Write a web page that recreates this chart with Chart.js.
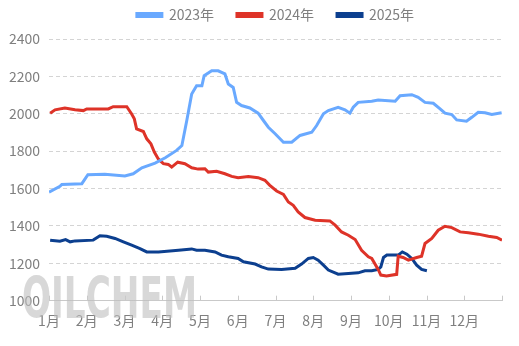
<!DOCTYPE html>
<html>
<head>
<meta charset="utf-8">
<script src="https://cdn.jsdelivr.net/npm/chart.js@4"></script>
<style>
  html, body { margin: 0; padding: 0; background: #fff; }
  #box { width: 519px; height: 346px; }
</style>
</head>
<body>
<div id="box"><canvas id="priceChart"></canvas></div>
<script>
// 月份标签
const months = ['1月','2月','3月','4月','5月','6月','7月','8月','9月','10月','11月','12月'];
const yTicks = [1000, 1200, 1400, 1600, 1800, 2000, 2200, 2400];

// 2023年 (位置: 月份序号, 值)
const pos2023 = [0, 0.29, 0.34, 0.87, 1.03, 1.48, 2.01, 2.23, 2.46, 2.81, 3.08, 3.38, 3.52, 3.65, 3.78, 3.91, 4.05, 4.11, 4.31, 4.48, 4.66, 4.75, 4.88, 4.97, 5.10, 5.32, 5.54, 5.68, 5.81, 5.99, 6.21, 6.43, 6.65, 6.96, 7.09, 7.27, 7.40, 7.66, 7.84, 7.97, 8.06, 8.19, 8.55, 8.72, 9.17, 9.30, 9.61, 9.78, 9.96, 10.18, 10.36, 10.49, 10.67, 10.80, 11.06, 11.20, 11.37, 11.55, 11.73, 11.99];
const val2023 = [1581, 1612, 1622, 1626, 1674, 1677, 1667, 1679, 1711, 1736, 1765, 1804, 1830, 1964, 2106, 2150, 2150, 2204, 2230, 2230, 2213, 2159, 2141, 2061, 2044, 2031, 2003, 1964, 1928, 1893, 1848, 1848, 1884, 1901, 1937, 2000, 2017, 2035, 2021, 2003, 2035, 2061, 2067, 2074, 2067, 2097, 2102, 2088, 2061, 2056, 2026, 2003, 1996, 1967, 1960, 1981, 2008, 2005, 1996, 2005];

// 2024年
const pos2024 = [0.03, 0.16, 0.42, 0.69, 0.91, 1.00, 1.57, 1.70, 2.06, 2.19, 2.26, 2.32, 2.50, 2.59, 2.70, 2.79, 2.90, 3.03, 3.16, 3.25, 3.41, 3.60, 3.78, 3.95, 4.13, 4.22, 4.44, 4.66, 4.84, 5.01, 5.28, 5.54, 5.72, 5.85, 6.03, 6.21, 6.34, 6.47, 6.60, 6.78, 7.05, 7.44, 7.58, 7.75, 7.93, 8.11, 8.28, 8.46, 8.55, 8.72, 8.79, 8.94, 9.21, 9.25, 9.38, 9.52, 9.74, 9.87, 9.96, 10.14, 10.31, 10.49, 10.67, 10.89, 11.11, 11.37, 11.64, 11.86, 12.0];
const val2024 = [2003, 2021, 2031, 2021, 2017, 2026, 2026, 2038, 2038, 1999, 1973, 1919, 1905, 1866, 1839, 1795, 1757, 1733, 1729, 1715, 1741, 1733, 1711, 1704, 1706, 1688, 1692, 1679, 1665, 1658, 1665, 1658, 1644, 1617, 1587, 1569, 1528, 1510, 1475, 1445, 1430, 1427, 1404, 1368, 1350, 1327, 1270, 1235, 1226, 1167, 1137, 1132, 1141, 1238, 1231, 1217, 1231, 1238, 1306, 1333, 1377, 1398, 1391, 1368, 1363, 1356, 1345, 1338, 1324];

// 2025年
const pos2025 = [0.03, 0.29, 0.44, 0.56, 0.69, 1.17, 1.35, 1.53, 1.75, 1.97, 2.19, 2.41, 2.59, 2.90, 3.43, 3.78, 3.91, 4.13, 4.40, 4.57, 4.75, 5.01, 5.15, 5.46, 5.63, 5.81, 6.16, 6.52, 6.69, 6.87, 7.00, 7.13, 7.27, 7.40, 7.66, 7.93, 8.19, 8.37, 8.55, 8.72, 8.79, 8.86, 8.95, 9.25, 9.36, 9.48, 9.61, 9.74, 9.87, 10.01];
const val2025 = [1324, 1318, 1327, 1315, 1320, 1324, 1347, 1345, 1333, 1315, 1297, 1279, 1261, 1261, 1270, 1277, 1270, 1270, 1261, 1244, 1235, 1226, 1208, 1196, 1181, 1169, 1167, 1173, 1196, 1226, 1231, 1217, 1190, 1164, 1142, 1146, 1149, 1160, 1160, 1167, 1181, 1231, 1244, 1244, 1261, 1249, 1226, 1190, 1167, 1160];

const toPoints = (xs, ys) => xs.map((x, i) => ({ x: x, y: ys[i] }));
const FONT = '"Noto Sans CJK SC", "Noto Sans", sans-serif';

// 水印 + x轴内刻度
const extras = {
  id: 'extras',
  beforeInit(chart) {
    const fit = chart.legend.fit;
    chart.legend.fit = function () {
      fit.call(this);
      this.height = 54;
    };
  },
  beforeDatasetsDraw(chart) {
    const ctx = chart.ctx;
    ctx.save();
    ctx.font = 'bold 60px "DejaVu Sans"';
    ctx.textBaseline = 'alphabetic';
    ctx.textAlign = 'left';
    const w = ctx.measureText('OILCHEM').width;
    const g = ctx.createLinearGradient(0, 276, 0, 318);
    g.addColorStop(0, 'rgba(190,190,190,0.6)');
    g.addColorStop(1, 'rgba(225,225,225,0.4)');
    ctx.fillStyle = g;
    ctx.translate(22, 318);
    ctx.scale(175 / w, 42 / 44);
    ctx.fillText('OILCHEM', 0, 0);
    ctx.restore();
  },
  afterDraw(chart) {
    const ctx = chart.ctx, x = chart.scales.x, b = chart.chartArea.bottom;
    ctx.save();
    ctx.strokeStyle = '#c9c9c9';
    ctx.lineWidth = 1;
    for (let i = 0; i <= 12; i++) {
      const px = Math.round(x.getPixelForValue(i)) + 0.5;
      ctx.beginPath();
      ctx.moveTo(px, b);
      ctx.lineTo(px, b - 5);
      ctx.stroke();
    }
    ctx.restore();
  }
};

new Chart(document.getElementById('priceChart'), {
  type: 'line',
  data: {
    datasets: [
      { label: '2023年', data: toPoints(pos2023, val2023), borderColor: '#69a9ff', backgroundColor: '#69a9ff' },
      { label: '2024年', data: toPoints(pos2024, val2024), borderColor: '#de3328', backgroundColor: '#de3328' },
      { label: '2025年', data: toPoints(pos2025, val2025), borderColor: '#0c3f8f', backgroundColor: '#0c3f8f' }
    ]
  },
  options: {
    responsive: true,
    maintainAspectRatio: false,
    animation: false,
    layout: { padding: { top: -15, right: 17, left: 0, bottom: 0 } },
    elements: {
      line: { borderWidth: 3, tension: 0 },
      point: { radius: 0 }
    },
    plugins: {
      legend: {
        position: 'top',
        fullSize: false,
        labels: {
          boxWidth: 25,
          boxHeight: 3,
          padding: 23,
          color: '#7f7f7f',
          font: { family: FONT, size: 14 }
        }
      },
      tooltip: { enabled: false }
    },
    scales: {
      x: {
        type: 'linear',
        min: 0,
        max: 12,
        afterBuildTicks: s => { s.ticks = months.concat(['']).map((m, i) => ({ value: i })); },
        afterFit: s => { s.height = 45.3; },
        ticks: {
          autoSkip: false,
          maxRotation: 0,
          padding: 12,
          color: '#7f7f7f',
          font: { family: FONT, size: 14 },
          callback: v => months[v] || ''
        },
        grid: { display: false, drawTicks: false },
        border: { display: true, color: '#c9c9c9', width: 1 }
      },
      y: {
        min: 1000,
        max: 2400,
        afterBuildTicks: s => { s.ticks = yTicks.map(v => ({ value: v })); },
        afterFit: s => { s.width = 49; },
        ticks: {
          padding: 9,
          color: '#7f7f7f',
          font: { family: FONT, size: 14 },
          callback: v => String(v)
        },
        grid: {
          drawTicks: false,
          color: c => c.tick && c.tick.value === 1000 ? 'rgba(0,0,0,0)' : '#d4d4d4'
        },
        border: { display: false, dash: [4, 3] }
      }
    }
  },
  plugins: [extras]
});
</script>
</body>
</html>
